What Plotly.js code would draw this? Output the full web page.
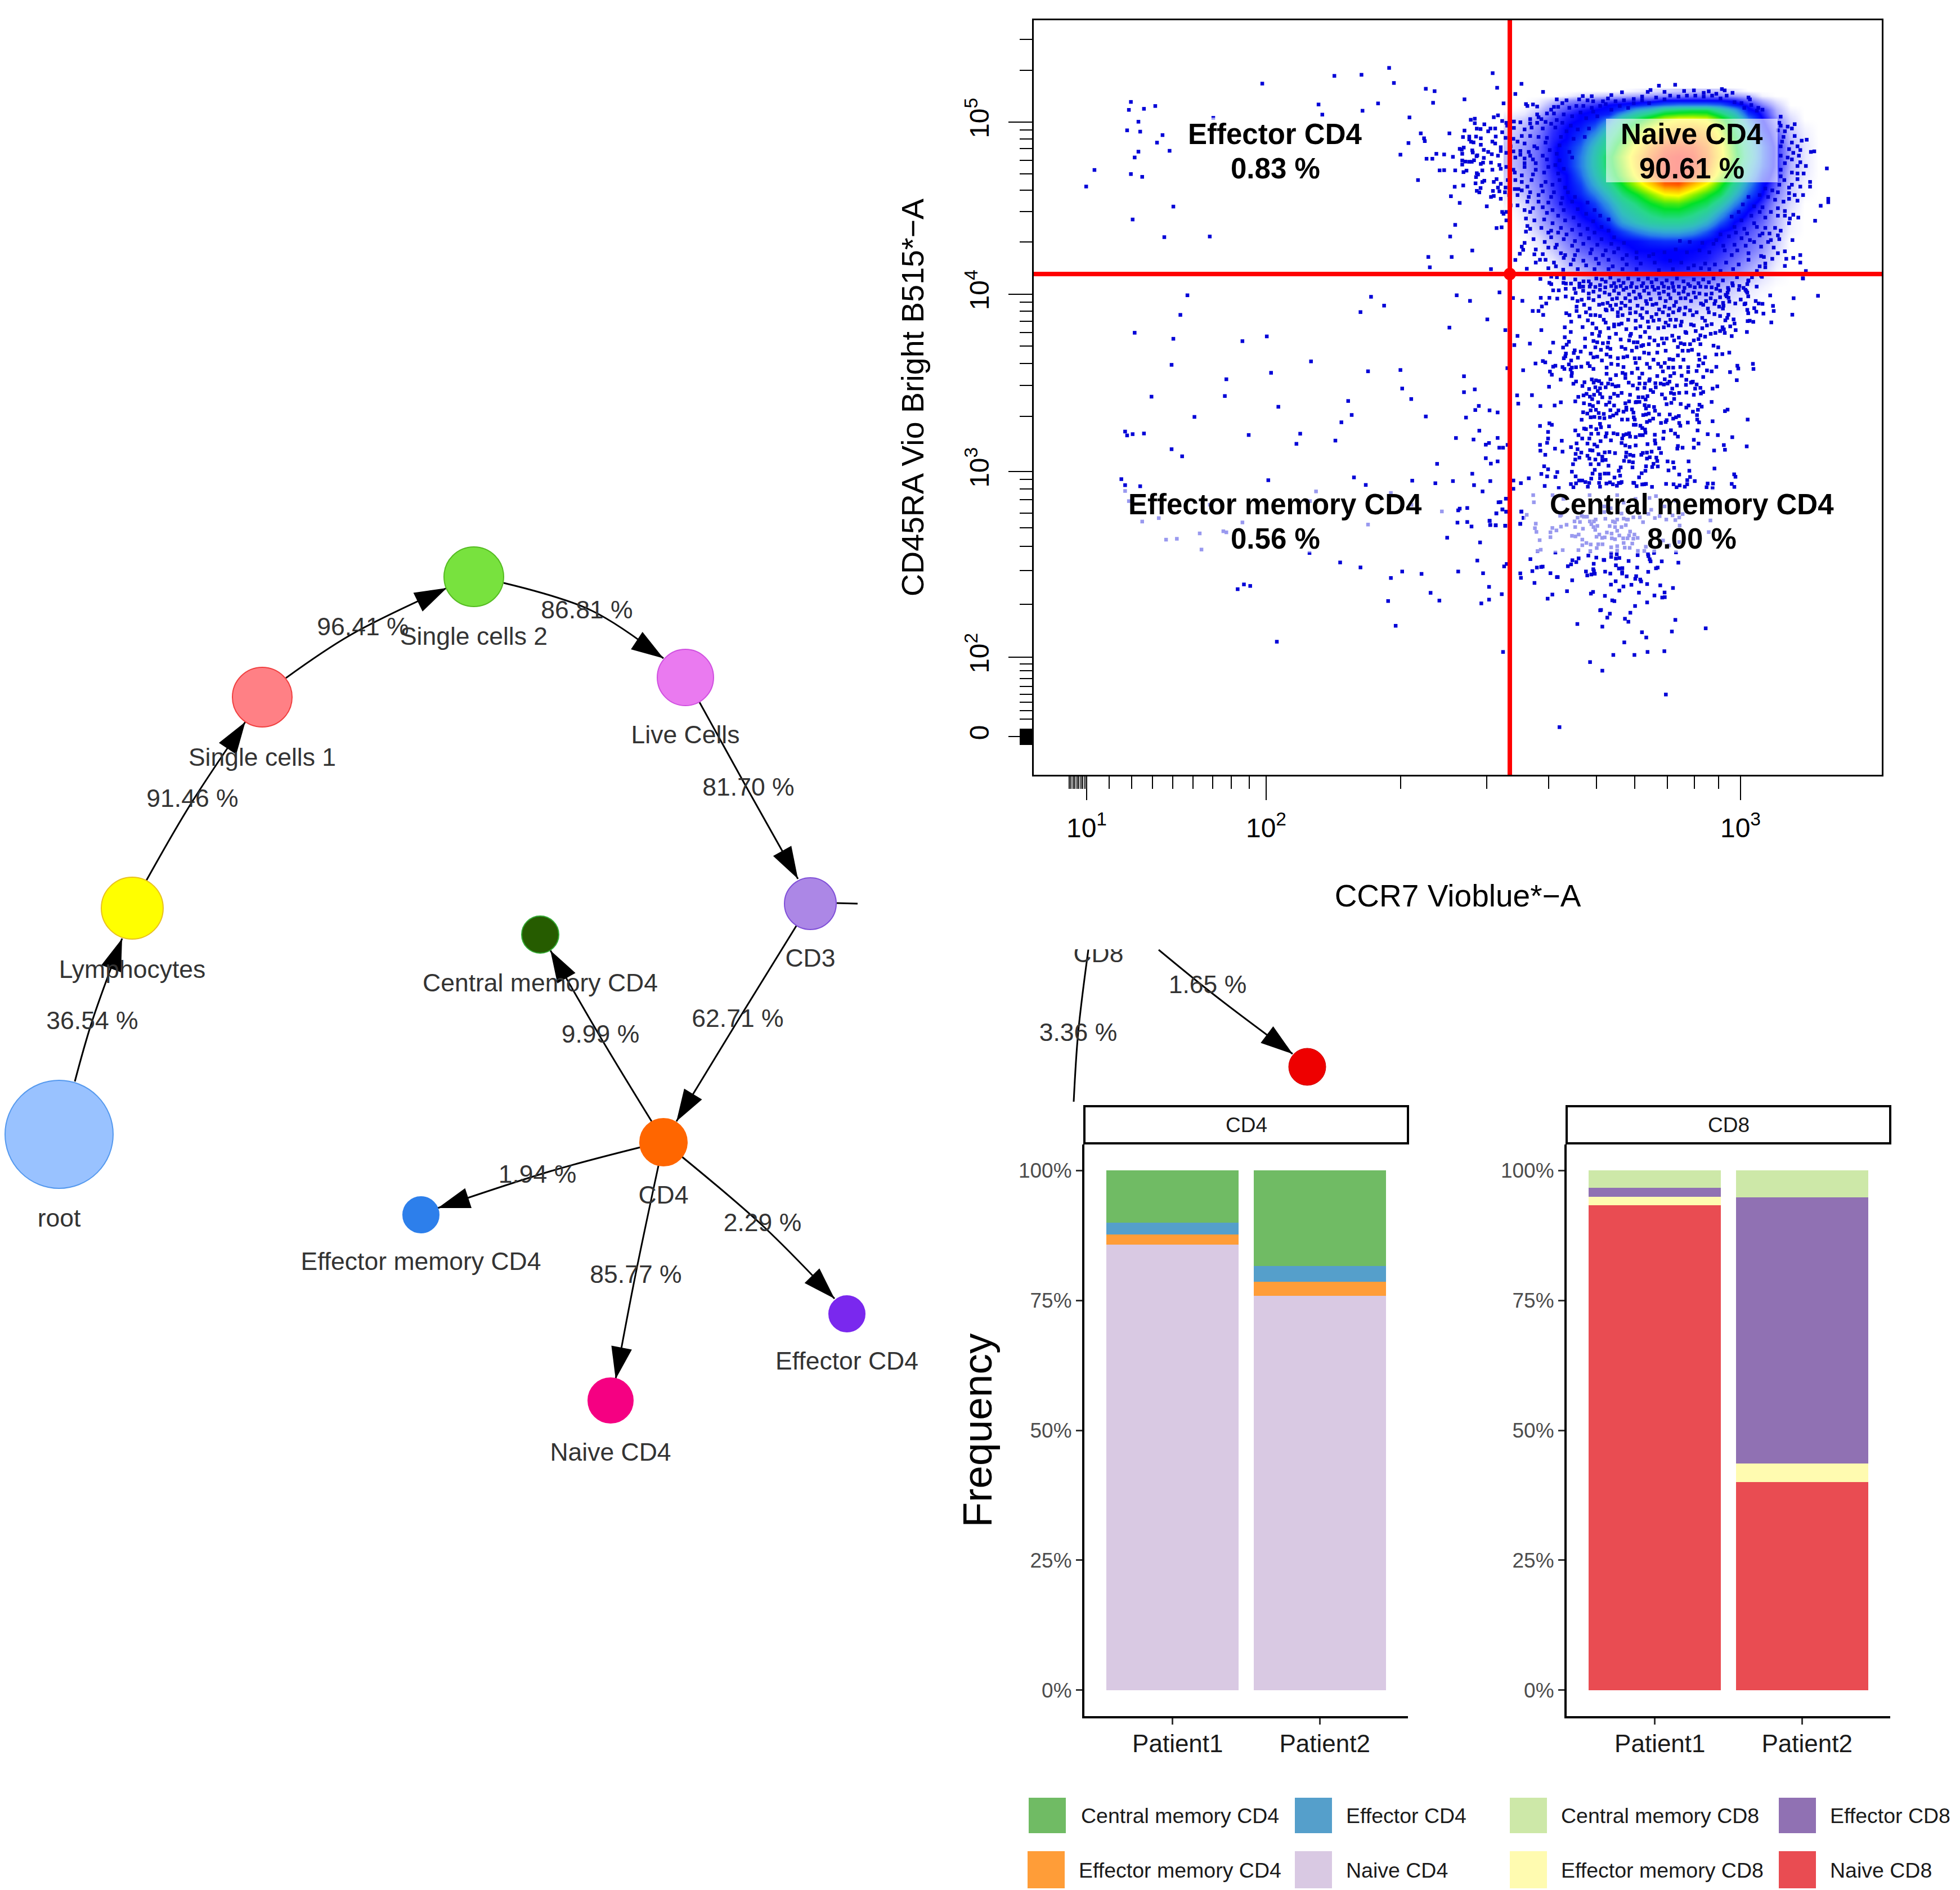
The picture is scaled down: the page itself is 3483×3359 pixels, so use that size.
<!DOCTYPE html>
<html><head><meta charset="utf-8">
<script src="https://cdn.plot.ly/plotly-3.0.1.min.js"></script>
<style>html,body{margin:0;padding:0;background:#fff}</style></head>
<body><div id="chart"></div>
<script>
// ---------- stacked bars ----------
const patients = ['Patient1','Patient2'];
const cd4Naive = [85.77,75.9], cd4EffMem = [1.94,2.7], cd4Eff = [2.29,3.0], cd4Central = [9.99,18.4];
const cd8Naive = [93.3,40.0], cd8EffMem = [1.6,3.6], cd8Eff = [1.8,51.2], cd8Central = [3.3,5.2];
const legendNames = ['Central memory CD4','Effector memory CD4','Effector CD4','Naive CD4','Central memory CD8','Effector memory CD8','Effector CD8','Naive CD8'];
const legendColors = ['#70BB64','#FF9D38','#559FCB','#D9C9E3','#CDE8A8','#FFFBB0','#9071B3','#E94C52'];
const pctTicks = [0,25,50,75,100];

// ---------- gating tree ----------
const nodeNames = ['root','Lymphocytes','Single cells 1','Single cells 2','Live Cells','CD3','CD4','Central memory CD4','Effector memory CD4','Naive CD4','Effector CD4'];
const nodeX = [105,235,466,842,1218,1440,1179,960,748,1085,1505];
const nodeY = [2016,1614,1239,1025,1204,1606,2030,1661,2159,2489,2335];
const nodeD = [192,110,106,106,100,92,84,66,64,80,64];
const nodeFill = ['#99C2FF','#FFFF00','#FF8085','#78E23E','#EA7AF0','#AC87E6','#FF6600','#265C00','#2D7FEB','#F50082','#7A28EE'];
const nodeEdge = ['#5599EE','#E8C020','#F04040','#55BB22','#D050E0','#8050D8','#FF6600','#33AA33','#2D7FEB','#F50082','#7A28EE'];
const labelX = [105,235,466,842,1218,1440,1179,960,748,1085,1505];
const labelY = [2169,1727,1350,1135,1310,1707,2128,1751,2246,2585,2423];
const edgePaths = [
 [[133,1922],[163,1817],[217,1668]],
 [[260,1565],[337,1432],[436,1283]],
 [[508,1205],[622,1129],[794,1045]],
 [[895,1036],[1051,1085],[1179,1170]],
 [[1243,1248],[1327,1400],[1418,1562]],
 [[1416,1644],[1316,1806],[1202,1993]],
 [[1158,1993],[1071,1850],[978,1689]],
 [[1138,2039],[980,2081],[778,2147]],
 [[1212,2056],[1357,2180],[1483,2308]],
 [[1170,2072],[1128,2272],[1094,2451]]
];
const edgeStub = [[1487,1605],[1524,1606]];
const edgeText = ['36.54 %','91.46 %','96.41 %','86.81 %','81.70 %','62.71 %','9.99 %','1.94 %','2.29 %','85.77 %'];
const edgeTextX = [164,342,645,1043,1330,1311,1067,955,1355,1130];
const edgeTextY = [1818,1423,1118,1088,1403,1814,1842,2091,2177,2269];
// part of the tree seen below the dot plot
const cd8Line = [[1934,1688],[1916,1835],[1908,1958]];
const cd8NaiveEdge = [[2059,1688],[2160,1770],[2297,1873]];
const cd8NaiveNode = [2323,1896];

// ---------- dot plot: axis scale is the plot's display channel ----------
const xMajor = [1931,2250,3093], xMajorText = ['10<sup>1</sup>','10<sup>2</sup>','10<sup>3</sup>'];
const xMinor = [1900,1903,1907,1910,1914,1917,1921,1924,1928,1971,2011,2048,2084,2120,2155,2188,2220,2489,2642,2752,2837,2905,2963,3011,3054];
const yMajor = [1309,1168,838,522.5,217], yMajorText = ['0','10<sup>2</sup>','10<sup>3</sup>','10<sup>4</sup>','10<sup>5</sup>'];
const yMinor = [70,125,231,247,264,285,309,338,376,430,537,553,571,591,615,646,685,740,852,869,888,912,938,971,1014,1074,1180,1192,1206,1220,1234,1248,1263,1278,
 1296,1297.5,1299,1300.5,1302,1303.5,1305,1306.5,1308,1309.5,1311,1312.5,1314,1315.5,1317,1318.5,1320,1321.5,1323];
const gateX = 2683, gateY = 487;

const blobCols = [250,300,350,400,450,500,550,600,650,700,750,800,850,900,950,1000,1050,1100,1150,1200,1250,1300,1350,1400];
const blobRows = [125,150,175,200,225,250,275,325,375,425,475,525,575,625,675,725,775,825,875,925,975,1025,1075,1125,1175,1250,1350,1450];
const blobLevels = [
[0,0,0,0,0,0,0,0,0,.05,.1,.15,.2,.2,.2,.2,.1,0,0,0,0,0,0,0],
[0,0,0,0,.05,.15,.2,.25,.3,.35,.4,.45,.5,.55,.55,.5,.4,.3,.05,0,0,0,0,0],
[0,0,.05,.2,.4,.5,.6,.7,.75,.8,.8,1,1,1,1,1,.9,.6,.3,.1,0,0,0,0],
[0,0,.1,.35,.6,.7,.8,1,1.1,1.2,1.5,1.8,2,2,2,1.8,1.2,.9,.5,.2,0,0,0,0],
[0,.05,.2,.5,.7,.9,1,1.1,1.5,2.5,3,4,4.3,4.5,4.5,3.5,2.5,1.1,.8,.3,.05,0,0,0],
[.05,.1,.3,.6,.85,1,1.1,1.3,2.5,3.5,4.3,5.2,5.5,5.6,5.5,4.5,3.2,1.5,.9,.35,.1,0,0,0],
[.1,.2,.4,.7,.9,1,1.2,2,3.5,4.5,5.5,6.5,7,7,6.8,5.5,4,2,1,.45,.15,0,0,0],
[.15,.3,.5,.8,1,1.2,1.8,3,4.5,5.8,6.8,7.6,8,8.2,7.8,6.5,4.5,2.7,1.2,.6,.2,.05,0,0],
[.2,.35,.55,.85,1,1.5,2.5,3.8,5,6.5,7.6,8.6,8.8,8.8,8.4,7,5,3,1.5,.7,.25,.08,0,0],
[.25,.4,.6,.9,1.2,1.8,3,4.2,5.8,7.2,8.5,9.4,9.6,9.5,8.8,7.3,5.3,3.3,1.8,.8,.3,.1,0,0],
[.25,.4,.6,.9,1.2,2,3.2,4.7,6.2,7.7,9,9.8,10,9.8,9,7.4,5.5,3.4,1.8,.8,.3,.1,0,0],
[.25,.4,.6,.9,1.2,2,3.2,4.6,6,7.6,9,9.8,10,9.7,8.8,7,5,3,1.7,.8,.3,.1,0,0],
[.2,.35,.55,.85,1,1.8,3,4.3,5.7,7.2,8.7,9.8,10,9.5,8.4,6.4,4.5,2.7,1.4,.7,.25,.08,0,0],
[.15,.3,.5,.8,1,1.5,2.6,3.7,5,6.3,7.6,9,9.2,8,6.8,5.3,3.7,2.2,1.1,.6,.2,.05,0,0],
[.1,.25,.45,.75,1,1.3,2,3,4.2,5,6,7,7.2,6.2,5.3,4.5,3,1.7,1,.5,.2,.03,0,0],
[.05,.15,.4,.7,.95,1,1.5,2.4,3.5,4.2,5,5.5,5.6,5,4.5,3.5,2.2,1.2,.8,.4,.15,0,0,0],
[0,.1,.35,.6,.85,1,1.2,1.9,3,3.6,4.2,4.6,4.6,4.2,3.6,2.5,1.4,.95,.7,.3,.1,0,0,0],
[0,.05,.3,.5,.7,.9,1,1.4,2.4,3,3.5,3.7,3.7,3.4,2.7,1.7,1,.8,.6,.3,.05,0,0,0],
[0,.03,.2,.4,.6,.8,.95,1,1.5,2,2.4,2.6,2.6,2.3,1.7,1,.9,.7,.5,.25,.05,0,0,0],
[0,0,.1,.3,.5,.7,.85,.95,1,1.1,1.3,1.4,1.4,1.2,1,.95,.8,.6,.45,.2,0,0,0,0],
[0,0,.05,.2,.4,.6,.7,.8,.9,1,1,1,1,1,.95,.85,.7,.55,.4,.15,0,0,0,0],
[0,0,.03,.1,.3,.45,.6,.7,.8,.9,.95,1,1,.95,.9,.75,.6,.45,.3,.1,0,0,0,0],
[0,0,0,.05,.2,.3,.45,.6,.7,.8,.85,.9,.9,.85,.75,.65,.5,.35,.2,.05,0,0,0,0],
[0,0,0,.03,.1,.2,.3,.4,.5,.55,.6,.65,.65,.6,.55,.45,.35,.25,.1,.03,0,0,0,0],
[0,0,0,0,.03,.1,.2,.25,.3,.35,.4,.4,.4,.4,.35,.3,.2,.1,.05,0,0,0,0,0],
[0,0,0,0,0,.02,.05,.1,.15,.2,.2,.25,.25,.25,.2,.15,.1,.05,0,0,0,0,0,0],
[0,0,0,0,0,0,0,.02,.05,.05,.08,.1,.1,.08,.05,.05,.02,0,0,0,0,0,0,0],
[0,0,0,0,0,0,0,0,0,0,0,0,0,0,0,0,0,0,0,0,0,0,0,0]];

// single events, read tile by tile (x,y pairs in each tile's reading grid)
const eventsUpperLeft = [1184,54,966,91,1074,86,679,127,1203,124,1330,151,1365,162,156,212,253,231,148,249,208,244,903,224,1140,219,1078,253,918,271,1359,216,1484,200,484,286,1265,284,186,304,141,344,193,350,282,366,260,401,310,439,186,443,171,470,11,528,156,547,201,560,1310,358,1323,381,1326,394,1261,403,1424,358,1229,457,1372,453,1403,456,1333,476,1356,476,1438,467,1299,575,1385,530,1403,529,1447,530,1445,606,1479,600,1430,650,1465,681,325,698,163,758,289,840,470,837,1447,783,1427,837,1515,902,1340,932,1433,932,1346,980,381,1110,1112,1117,1164,1158,1453,1110,1506,1136,353,1201,1070,1188,171,1284,325,1312,600,1323,697,1301,1424,1260,318,1433,873,1417,714,1470,536,1500,1100,1463,1229,1457,1236,1543,1482,1486,1525,1547,1482,1560,1509,295,1525,290,1525,311,1533,336,1548,338,1563,316,1484,345,1478,375,1503,373,1530,373,1549,381,1503,386,1510,397,1520,400,1549,411,1481,424,1465,430,1473,434,1515,437,1517,447,1475,453,1535,460,1532,464,1561,435,1561,472,1475,484,1487,489,1502,490,1513,490,1522,483,1475,503,1549,500,1558,494,1480,538,1492,531,1533,543,1538,549,1555,530,1530,561,1528,590,1555,584,1563,578,1548,612,1533,625,1543,632,-22,605];
const eventsLowerLeft = [238,13,530,10,743,60,1021,33,1272,24,409,107,1035,98,994,132,1330,105,1490,110,1541,56,1527,75,133,175,141,193,163,187,208,184,625,191,830,185,970,217,815,232,1450,205,1520,212,1543,171,318,257,360,290,1375,325,118,396,133,424,193,429,703,401,1044,388,1091,423,1276,403,1368,415,1438,405,1515,371,1522,424,1556,453,1465,533,1459,541,1495,530,1456,598,1495,595,1512,616,1415,668,1546,690,867,739,989,783,1070,806,1236,825,1313,836,1459,825,1535,774,1558,833,1191,855,581,907,606,885,631,892,1349,924,1180,962,1384,960,1551,973,1210,1077,737,1151,133,451,148,498,201,593,267,577,600,597,430,648,524,638,536,643,296,677,339,673,437,723,893,453,1191,460,869,498,470,515,1273,515,1394,546,1100,607];
const eventsMid = [314,119,249,263,345,320,261,748,304,759,304,895,313,947,333,947,241,1003,304,1020,268,1032,265,1125,241,931,258,922,309,1238,348,1219,319,1237,330,1276,297,1297,350,1288,262,1337,265,1359,294,1361,345,1363,356,523,357,932,431,1287,442,1321,425,1353,
386,149,436,164,534,148,580,148,622,152,667,141,703,151,563,178,540,194,491,218,522,218,547,239,670,230,687,240,740,247,696,275,662,305,757,304,694,330,537,320,410,351,662,358,393,400,476,392,600,387,684,382,672,398,653,413,770,409,583,438,715,428,710,442,747,435,668,445,665,460,657,470,732,467,696,482,506,498,545,485,558,492,684,503,612,510,600,515,650,517,660,527,700,520,722,518,750,515,693,530,440,534,583,541,593,558,700,548,698,565,640,584,578,622,708,606,722,594,487,667,408,668,414,712,532,725,608,722,641,705,718,700,734,676,
756,618,767,598,792,634,806,583,816,600,828,588,845,592,858,605,825,625,850,630,838,645,818,665,778,660,762,668,796,675,808,688,850,660,862,678,905,680,905,582,893,605,915,610,933,620,948,618,880,625,925,660,945,670,965,655,1003,600,1025,615,1010,665,1060,605,1050,632,1087,628,1090,605,1112,590,1120,640,1133,650,1145,603,1147,625,1055,678,1045,703,1078,678,1103,672,1093,690,1173,605,1190,610,1210,605,1220,595,1235,632,1180,663,1197,684,1228,655,1245,660,1245,687,1272,655,1310,653,1350,665,1385,628,1357,632,1400,650,1388,658,1260,615,1308,612,1335,600,1345,595,1365,610,1450,632,1475,620,
764,710,795,718,812,725,840,705,882,718,900,705,925,722,985,710,1005,700,990,733,760,758,782,765,800,748,828,745,843,762,870,767,905,747,948,748,975,755,990,745,1020,743,1028,760,1040,705,1060,703,1088,720,1095,738,1138,730,1143,750,1165,770,1110,725,1080,773,1095,770,1110,765,800,785,820,783,848,787,873,790,903,783,920,775,938,765,967,797,997,797,1030,785,1035,797,1133,792,1100,810,1115,803,1205,800,1222,770,1240,792,1255,785,1270,778,1205,715,1230,708,1280,714,1310,733,1322,722,1345,755,1372,745,1380,718,1392,728,1367,773,1368,797,1378,812,1445,703,1450,806,752,798,580,817,593,825,530,831,573,863,718,855,765,845,775,848,801,835,830,848,850,820,855,838,898,833,1030,825,1040,825,1065,830,1075,842,1090,850,1175,815,1200,810,1272,815,1278,830,1318,813,1370,855,1190,862,1228,854,1250,872,1265,888,1424,875,1478,880,
573,898,568,921,646,910,530,932,610,952,695,944,725,924,783,925,820,930,835,940,755,898,793,898,735,880,803,873,840,872,885,870,880,888,908,908,922,870,943,875,968,898,965,922,975,880,990,875,1010,888,1005,870,1040,890,1062,880,1078,880,1092,867,1142,878,1142,908,1145,925,1187,898,1103,928,1040,935,1008,943,985,935,853,912,
532,963,558,985,650,968,730,955,720,980,750,973,797,960,810,962,842,982,875,972,900,970,930,976,990,973,988,995,1010,985,1028,990,1078,975,1100,973,1125,968,1165,950,1175,975,1265,938,1262,952,1290,947,1350,947,1458,962,1350,905,1375,925,
718,1010,740,1000,783,990,793,1005,825,1010,862,995,880,1012,862,1015,978,1017,1005,1020,1025,1025,1070,985,1100,1005,1115,998,1150,1000,1155,1018,1210,1020,1240,1025,1322,1020,
552,1046,573,1062,706,1035,800,1035,843,1035,895,1043,960,1052,1023,1052,1095,1046,1128,1050,1158,1047,1135,1033,
537,1087,568,1100,622,1077,612,1103,700,1075,720,1100,822,1065,810,1085,850,1090,875,1085,895,1085,950,1070,957,1096,1072,1083,1092,1070,1215,1068,1245,1054,1272,1090,1326,1070,1460,1058,
470,1110,803,1112,850,1110,927,1106,1058,1105,1330,1103,1315,1120,
388,1122,428,1136,388,1166,555,1151,708,1158,722,1137,738,1122,755,1122,772,1130,785,1155,845,1135,850,1155,903,1132,950,1135,965,1130,940,1150,1032,1135,1045,1152,1075,1143,1095,1140,1127,1156,1242,1142,1258,1158,1302,1155,1355,1125,1418,1158,1450,1163,630,1162,
532,47,590,35,620,38,657,43,580,68,590,75,655,68,668,72,695,72,718,50,740,72,762,60,790,60,800,75,830,45,860,50,880,62,905,40,925,70,950,55,975,68,1000,45,1020,70,1055,50,1080,70,1105,45,1125,65,1150,50,1180,70,1205,55,1235,70,1260,45,1295,60,1320,75,1350,50,1375,70,1400,50,1430,65,1455,45,1480,80,740,90,760,88,795,88,825,90,850,80,878,92,910,85,935,90,960,85,990,95,1015,88,1045,92,1072,85,1100,92,1130,88,1160,95,1190,88,1215,95,1240,90,1270,88,1300,95,1330,85,1355,92,1385,88,1415,90,1445,92,600,108,630,108,667,100,713,100,
720,122,760,110,790,125,815,115,850,105,875,120,900,130,925,110,950,125,975,105,1005,130,1030,115,1060,130,1085,110,1110,125,1140,105,1165,125,1190,115,1215,130,1245,110,1270,125,1295,115,1320,130,1350,120,1380,125,1415,130,1445,125,1470,100,1490,110,
752,158,730,165,790,150,815,160,845,140,865,180,890,175,915,155,940,150,965,175,985,150,1010,165,1040,150,1065,145,1095,165,1120,155,1150,180,1170,150,1200,165,1225,150,1255,170,1280,150,1305,150,1335,165,1360,145,1388,178,1415,165,1440,150,1465,165,1490,145,
725,195,765,185,795,205,845,185,880,210,905,190,935,185,960,205,985,190,1010,205,1050,190,1075,205,1100,180,1130,185,1165,210,1195,195,1220,205,1245,190,1275,205,1305,200,1330,215,1400,185,1425,205,1460,180,1485,195,
725,218,775,225,800,240,825,240,850,245,885,215,915,210,945,225,970,240,1010,230,1040,225,1065,240,1100,225,1125,250,1150,235,1185,225,1215,240,1240,225,1270,215,1300,235,1345,240,1365,225,1395,255,1430,225,1460,235,1490,245,
785,268,810,285,830,310,870,265,880,280,925,290,945,245,965,285,1000,265,1040,270,1075,255,1105,275,1135,270,1165,265,1200,280,1225,265,1255,265,1285,275,1335,290,1350,295,1410,270,1445,288,1420,295,
850,330,895,310,925,300,950,290,990,315,1015,340,1040,310,1065,300,1110,305,1160,310,1190,305,1215,295,1250,300,1280,295,1395,310,1360,325,1305,330,
808,340,845,350,900,360,935,340,960,370,1010,350,1065,355,1090,330,1115,360,1140,375,1180,365,1205,365,1235,350,1270,360,1280,390,1310,335,1385,348,1410,355,1440,340,1465,335,1490,325,
770,365,815,378,835,385,865,390,893,387,1005,375,1030,385,1050,385,1080,400,1110,395,1160,400,1190,390,1245,375,1300,395,1330,395,1350,375,1375,368,1385,395,
825,412,855,425,890,412,905,420,965,410,985,420,1020,430,1045,412,1070,405,1085,440,1110,445,1155,440,1200,430,1265,410,1290,430,1320,430,1340,425,1375,450,1410,465,1455,403,1480,412,
800,445,815,465,835,462,860,482,885,450,905,462,945,470,975,465,995,460,1035,470,1060,470,1135,478,1220,475,1240,478,1265,455,1295,478,1380,478,1470,450,
785,497,795,512,815,527,885,520,910,500,945,505,975,517,1040,495,1050,525,1100,500,1115,520,1160,500,1175,515,1195,495,1215,520,1240,520,1278,517,1320,518,1375,510,1400,497,1470,516,
885,553,935,560,970,548,985,555,1020,548,1075,552,1185,540,1245,550,1225,565,1285,563,1320,543,1365,538,1420,535,1445,540,1400,570,985,575,1060,575,1115,582,1155,565,1195,582,1310,585,1340,598];
const eventsRight = [491,44,273,36,220,38,140,38,200,58,65,55,115,70,118,82,195,75,245,88,153,85,150,105,92,95,95,105,175,95,185,105,190,112,90,120,195,120,80,132,85,140,95,148,200,140,317,135,442,150,572,137,160,157,99,168,131,178,180,182,185,178,240,165,256,178,276,180,332,191,66,175,68,190,65,205,195,212,232,203,243,222,200,230,281,232,336,218,435,238,94,238,88,255,78,268,122,263,127,285,197,272,208,270,227,276,323,279,104,300,63,305,70,316,133,320,75,335,193,330,112,352,99,440,62,448,142,510,147,525,225,500,228,527,103,544,139,587,90,744,76,752,197,797,115,891,70,933,76,958,192,940,125,1089,132,1102,112,1140,126,1156];
const eventsLower = [284,528,225,489,225,557,295,380,307,367,290,836,417,341,447,386,467,383,474,381,426,405,370,417,373,441,510,416,436,468,540,437,544,437,611,454,612,347,606,369,591,379,630,357,641,337,686,322,723,333,757,345,760,346,792,329,792,308,533,306,818,315,814,338,830,335,711,366,814,374,828,391,844,389,675,407,681,428,700,423,709,395,712,405,716,419,764,408,788,418,843,410,843,418,864,433,913,386,873,351,915,320,963,315,965,325,971,342,975,353,991,308,1027,353,1104,360,1093,305,1000,390,1008,386,964,409,908,432,904,446,927,450,931,460,813,459,791,477,849,487,886,478,959,474,1020,481,1079,495,830,509,921,520,763,537,698,525,708,516,587,512,519,530,497,552,1040,519,993,535,1029,546,1041,544,797,561,807,565,959,572,903,591,741,614,745,612,786,632,774,653,881,627,856,659,872,675,635,687,751,701,1090,665,1231,710,935,731,1074,727,955,759,853,785,802,852,900,852,961,836,1039,832,694,890,751,936,1046,1063,552,1237,370,153,385,121,375,88,305,88,287,76,259,97,227,137,230,159,256,161,300,163,
433,38,400,105,555,110,560,105,655,110,665,115,680,115,720,130,765,126,850,125,870,130,820,130,895,118,925,118,965,100,995,122,1017,112,1048,130,1077,108,1090,133,1108,119,1124,101,1253,135,940,144,1110,162,622,140,636,120,647,143,442,152,438,176,519,175,585,158,559,168,538,188,625,170,661,179,693,140,700,155,712,140,728,164,710,170,718,185,800,140,810,145,785,165,810,170,840,170,860,160,865,130,820,190,772,199,794,205,830,215,880,194,875,215,900,210,445,196,510,198,510,224,610,217,626,220,641,210,737,210,724,222,750,228,762,225,795,230,810,235,848,230,868,230,895,232,915,228,460,240,658,237,677,255,697,263,732,262,752,262,658,267,850,255,890,258,725,282,792,278,820,272,855,280,878,281,820,295,640,293,567,293,450,298,465,291,695,298,916,297,946,297,1033,242,1108,250,1060,268,1245,197,953,275,992,300,570,20,692,0,520,0,760,60,790,70,820,0,850,40,905,20,970,15,1040,60,1105,70,760,90,840,98,1000,5,1090,30,978,78,430,0,
605,-59,690,-65,770,-62,835,-65,895,-66,945,-58,1047,-60,1145,-58,1240,-62,1265,-62,800,-58,1110,-52];
const eventsUpperRight = [186,30,289,87,202,108,267,141,366,130,225,191,780,97,838,92,750,120,1005,115,1015,122,1043,135,648,132,540,153,508,152,610,147,598,165,690,168,720,155,740,130,800,130,870,125,905,122,940,135,958,127,985,140,1100,160,
415,170,435,190,450,175,495,170,525,175,545,180,580,180,625,180,655,175,690,190,720,175,745,190,770,160,800,170,820,150,850,155,880,150,910,150,940,155,970,150,1000,165,1022,150,1050,185,1075,190,1105,170,1110,200,
405,210,420,210,345,208,305,195,330,197,310,205,460,215,485,205,510,205,540,215,570,205,590,195,610,225,640,205,670,215,1135,215,1150,225,1085,215,1130,230,
380,245,395,225,405,245,345,250,350,265,320,275,360,275,375,290,415,280,440,250,470,260,500,240,520,270,545,235,560,260,
190,265,205,255,220,285,235,295,262,288,285,292,320,298,345,295,395,300,435,295,465,310,
170,340,178,325,195,325,220,345,238,310,262,322,300,330,325,320,365,325,410,320,450,340,490,330,530,325,
197,368,232,375,260,380,290,365,320,365,350,370,380,375,430,370,475,380,515,370,
185,395,195,405,250,420,275,395,300,405,335,420,375,400,425,415,
170,450,215,425,215,445,260,447,285,445,315,450,345,430,390,440,
183,462,205,470,235,455,285,465,320,470,365,470,415,460,460,450,
267,480,300,485,330,490,380,490,425,495,470,480,
180,507,210,520,235,530,300,510,340,510,410,520,
185,545,215,540,260,545,300,530,340,545,385,530,440,540,
265,560,290,575,330,570,370,560,420,565,
200,595,190,610,215,620,240,600,267,600,290,610,325,600,375,610,425,600,
205,640,232,640,265,648,278,648,310,635,360,630,400,625,445,640,
187,658,210,660,230,665,290,655,320,665,365,660,405,665,455,665,
180,690,190,685,215,700,245,680,275,680,315,690,350,680,395,690,435,695,480,690,
165,740,250,735,275,735,310,715,350,715,385,720,430,725,470,715,525,720,
220,770,235,770,300,760,330,750,365,745,400,760,440,760,490,755,550,760,
225,780,235,815,320,770,380,775,420,790,475,800,520,780,570,790,
305,805,335,815,370,810,400,830,445,815,495,840,545,820,600,810,
200,856,218,852,310,845,320,860,360,855,395,870,430,855,470,865,525,860,575,850,
305,875,385,880,420,880,450,890,500,890,550,880,600,870,
332,915,395,905,440,915,480,925,530,910,575,915,620,905,
372,930,300,935,415,945,470,950,510,940,560,945,610,940,655,935,
290,955,385,960,410,960,430,990,490,975,540,970,590,975,635,965,
295,972,340,970,365,995,335,996,283,993,445,1000,480,1000,535,990,580,1000,620,985,665,1000,700,985,
355,1025,375,1025,405,1040,440,1015,475,1025,510,1030,555,1020,600,1025,650,1020,700,1015,745,1005,
267,1026,340,1040,412,1060,465,1050,520,1055,565,1045,615,1060,665,1050,715,1045,765,1040,
180,1075,308,1073,385,1070,438,1078,490,1075,550,1075,600,1075,650,1075,700,1075,
1215,262,1265,302,1210,295,1215,310,1240,315,1255,325,1205,335,1230,340,1265,365,1225,370,1290,390,1308,385,1220,395,1255,400,
1215,420,1275,420,1245,435,1285,440,1335,447,1323,450,1260,455,1215,470,1240,480,1280,470,1255,490,1285,505,1230,510,1275,525,1305,525,1380,538,
1215,545,1255,560,1275,565,1297,565,1215,580,1275,595,1228,600,1320,610,1255,625,1320,635,1285,635,1245,640,1210,625,
1185,655,1160,645,1205,665,1245,670,1265,680,1295,680,1245,700,1275,710,1385,700,1385,718,1358,737,1140,680,1100,690,1170,690,
1195,705,1225,715,1205,750,1080,730,1120,740,1150,745,1180,770,1230,765,1260,785,1205,790,1278,800,1248,805,1338,817,1065,770,1110,790,1140,770,1160,800,1230,790,
1040,795,1075,815,1120,830,1160,855,1195,855,1245,830,1050,850,1085,860,1130,850,1150,885,1175,885,1205,895,1215,870,
1055,880,1095,885,1140,895,1180,920,1210,915,1257,920,1075,910,1105,920,1030,900,1000,890,985,920,
1170,930,1120,930,1145,955,1190,960,1230,980,1090,950,1050,945,1010,950,975,940,935,935,890,930,855,925,
1205,990,1285,1000,1260,1015,1235,1020,1185,1020,1145,1005,1155,1010,1100,990,1060,975,1040,1000,1015,975,960,985,925,975,880,985,840,970,800,985,760,995,
1285,1040,1230,1058,1160,1045,1140,1060,1160,1065,1130,1085,1100,1025,1065,1050,1020,1040,980,1050,945,1045,905,1055,860,1040,820,1030,
1305,1085,1295,1125,1145,1110,1100,1135,1045,1075,1000,1085,960,1075,930,1070,885,1070,830,1075,780,1080];

// ---------- page geometry ----------
const W = 3483, H = 3359, FONT = '"Liberation Sans", Arial, sans-serif';
const px = v => v / W, py = v => 1 - v / H;
const dom = (a, b) => [a / W, b / W], domY = (top, bottom) => [1 - bottom / H, 1 - top / H];

function tile(list, ox, oy, sx, sy) {
  const xs = [], ys = [];
  for (let i = 0; i < list.length; i += 2) { xs.push(ox + list[i] * sx); ys.push(oy + list[i + 1] * sy); }
  return [xs, ys];
}
const tiles = [
  tile(eventsUpperLeft, 1940, 100, .4464, .3827),
  tile(eventsLowerLeft, 1940, 700, .4464, .3827),
  tile(eventsMid, 2560, 480, 1/3, 1/3),
  tile(eventsRight, 3040, 480, 1/3, 1/3),
  tile(eventsLower, 2560, 880, .3827, 1/3),
  tile(eventsUpperRight, 2560, 120, .4974, 1/3)
];
const traces = [];
traces.push({type:'heatmap', xaxis:'x', yaxis:'y', x:blobCols.map(v=>2560+v*.4974), y:blobRows.map(v=>120+v/3), z:blobLevels,
  zmin:0, zmax:10, zsmooth:'best', showscale:false, hoverinfo:'skip',
  colorscale:[[0,'rgba(0,0,255,0)'],[.1,'rgba(0,0,255,1)'],[.15,'rgb(15,60,250)'],[.2,'rgb(40,125,235)'],[.25,'rgb(50,165,215)'],[.3,'rgb(50,190,190)'],[.4,'rgb(40,215,140)'],[.5,'rgb(0,225,40)'],[.6,'rgb(130,240,0)'],[.7,'rgb(255,255,0)'],[.8,'rgb(255,190,0)'],[.9,'rgb(255,110,0)'],[1,'rgb(255,20,0)']]});
traces.push({type:'scatter', mode:'markers', xaxis:'x', yaxis:'y', hoverinfo:'skip',
  x:tiles.flatMap(t=>t[0]), y:tiles.flatMap(t=>t[1]),
  marker:{symbol:'square', size:6.5, color:'rgb(0,0,215)', opacity:1, line:{width:0}}});
const redLine = {color:'#FF0000', width:8};
traces.push({type:'scatter', mode:'lines', xaxis:'x', yaxis:'y', x:[gateX,gateX], y:[36,1377], line:redLine, hoverinfo:'skip'});
traces.push({type:'scatter', mode:'lines', xaxis:'x', yaxis:'y', x:[1837,3344], y:[gateY,gateY], line:redLine, hoverinfo:'skip'});
traces.push({type:'scatter', mode:'markers', xaxis:'x', yaxis:'y', x:[gateX], y:[gateY], marker:{size:22,color:'#FF0000',opacity:1}, hoverinfo:'skip'});

// bars: first listed is the bottom of each stack
function bars(series, colors, xa, ya) {
  series.forEach((vals, i) => traces.push({type:'bar', xaxis:xa, yaxis:ya, x:patients, y:vals, marker:{color:colors[i], line:{width:0}}, hoverinfo:'skip'}));
}
const col = n => legendColors[legendNames.indexOf(n)];
bars([cd4Naive,cd4EffMem,cd4Eff,cd4Central], ['Naive CD4','Effector memory CD4','Effector CD4','Central memory CD4'].map(col), 'x2','y2');
bars([cd8Naive,cd8EffMem,cd8Eff,cd8Central], ['Naive CD8','Effector memory CD8','Effector CD8','Central memory CD8'].map(col), 'x3','y3');

// tree
function edge(path, arrow, xa, ya) {
  const t = {type:'scatter', mode: arrow ? 'lines+markers' : 'lines', xaxis:xa, yaxis:ya, hoverinfo:'skip',
    x:path.map(p=>p[0]), y:path.map(p=>p[1]), line:{color:'#000', width:3, shape:'spline'}};
  if (arrow) t.marker = {symbol:'arrow', angleref:'previous', size:path.map((p,i)=> i===path.length-1 ? 60 : 0), color:'#000', opacity:1, line:{width:0}};
  traces.push(t);
}
edgePaths.forEach(p => edge(p, true, 'x4','y4'));
edge(edgeStub, false, 'x4','y4');
traces.push({type:'scatter', mode:'markers', xaxis:'x4', yaxis:'y4', x:nodeX, y:nodeY, hoverinfo:'skip',
  marker:{size:nodeD, color:nodeFill, opacity:1, line:{color:nodeEdge, width:2}}});
const treeFont = {family:FONT, size:44.5, color:'#333333'};
traces.push({type:'scatter', mode:'text', xaxis:'x4', yaxis:'y4', x:labelX, y:labelY, text:nodeNames, textposition:'middle center', textfont:treeFont, hoverinfo:'skip', cliponaxis:false});
traces.push({type:'scatter', mode:'text', xaxis:'x4', yaxis:'y4', x:edgeTextX, y:edgeTextY, text:edgeText, textposition:'middle center', textfont:treeFont, hoverinfo:'skip', cliponaxis:false});
edge(cd8Line, false, 'x5','y5');
edge(cd8NaiveEdge, true, 'x5','y5');
traces.push({type:'scatter', mode:'markers', xaxis:'x5', yaxis:'y5', x:[cd8NaiveNode[0]], y:[cd8NaiveNode[1]], hoverinfo:'skip', marker:{size:66,color:'#EE0000',opacity:1,line:{color:'#CC0000',width:1}}});
traces.push({type:'scatter', mode:'text', xaxis:'x5', yaxis:'y5', x:[1952,1916,2146], y:[1699,1839,1754], text:['CD8','3.36 %','1.65 %'], textposition:'middle center', textfont:treeFont, hoverinfo:'skip', cliponaxis:true});

// layout
const annotations = [], shapes = [];
function flowText(t, x, y) { annotations.push({text:t, xref:'x', yref:'y', x, y, showarrow:false, xanchor:'center', yanchor:'middle', font:{family:FONT, size:51, color:'#000'}}); }
[['Effector CD4','0.83 %',2266,238,299,2087,2446,209,325],
 ['Naive CD4','90.61 %',3006,238,299,2854,3159,211,324],
 ['Effector memory CD4','0.56 %',2266,896,957,1968,2566,869,982],
 ['Central memory CD4','8.00 %',3006,896,957,2708,3304,869,982]].forEach(r => {
  shapes.push({type:'rect', xref:'x', yref:'y', x0:r[5], x1:r[6], y0:r[7], y1:r[8], fillcolor:'rgba(255,255,255,0.6)', line:{width:0}, layer:'above'});
  flowText('<b>'+r[0]+'</b>', r[2], r[3]); flowText('<b>'+r[1]+'</b>', r[2], r[4]);
});
[[1927,2502,'CD4'],[2784,3359,'CD8']].forEach(s => {
  shapes.push({type:'rect', xref:'paper', yref:'paper', x0:px(s[0]), x1:px(s[1]), y0:py(1966), y1:py(2032), fillcolor:'#fff', line:{color:'#000', width:4}});
  annotations.push({text:s[2], xref:'paper', yref:'paper', x:px((s[0]+s[1])/2), y:py(1999), showarrow:false, xanchor:'center', yanchor:'middle', font:{family:FONT, size:37, color:'#1A1A1A'}});
});
const legendSwatchX = [1828,1826,2301,2301,2683,2683,3161,3161];
const legendTextX = [1919,1915,2390,2390,2772,2772,3250,3250];
legendNames.forEach((n,i) => {
  const row = i % 2, top = row ? 3290 : 3195, bottom = row ? 3356 : 3258, mid = row ? 3324 : 3227;
  shapes.push({type:'rect', xref:'paper', yref:'paper', x0:px(legendSwatchX[i]), x1:px(legendSwatchX[i]+66), y0:py(top), y1:py(bottom), fillcolor:legendColors[i], line:{width:0}});
  annotations.push({text:n, xref:'paper', yref:'paper', x:px(legendTextX[i]), y:py(mid), showarrow:false, xanchor:'left', yanchor:'middle', font:{family:FONT, size:37.5, color:'#1A1A1A'}});
});
const hidden = {visible:false, fixedrange:true};
const barX = (domainPx) => ({domain:dom(...domainPx), type:'category', categoryorder:'array', categoryarray:patients, range:[-.6,1.6], showline:true, linecolor:'#000', linewidth:4, ticks:'outside', ticklen:11, tickwidth:3, tickcolor:'#333', tickfont:{family:FONT,size:44,color:'#1A1A1A'}, ticklabelshift:9, ticklabelstandoff:-4, showgrid:false, zeroline:false});
const barY = (extra) => Object.assign({domain:domY(2034,3050), range:[-5,105], tickmode:'array', tickvals:pctTicks, ticktext:pctTicks.map(v=>v+'%'), showline:true, linecolor:'#000', linewidth:4, ticks:'outside', ticklen:11, tickwidth:3, tickcolor:'#333', tickfont:{family:FONT,size:37,color:'#4D4D4D'}, showgrid:false, zeroline:false}, extra);
const layout = {
  width:W, height:H, autosize:false, margin:{l:0,r:0,t:0,b:0,pad:0}, paper_bgcolor:'#fff', plot_bgcolor:'rgba(0,0,0,0)', showlegend:false,
  barmode:'stack', bargap:.1, font:{family:FONT}, annotations, shapes,
  xaxis:{domain:dom(1837,3344), range:[1837,3344], anchor:'y', showgrid:false, zeroline:false, showline:true, mirror:true, linecolor:'#000', linewidth:3,
    tickmode:'array', tickvals:xMajor, ticktext:xMajorText, ticks:'outside', ticklen:42, tickwidth:2, tickcolor:'#000', tickfont:{family:FONT,size:48,color:'#000'}, ticklabelstandoff:8,
    minor:{tickmode:'array', tickvals:xMinor, ticks:'outside', ticklen:22, tickwidth:2, tickcolor:'#000', showgrid:false},
    title:{text:'CCR7 Vioblue*\u2212A', font:{family:FONT,size:55,color:'#000'}, standoff:76}},
  yaxis:{domain:domY(36,1377), range:[1377,36], anchor:'x', showgrid:false, zeroline:false, showline:true, mirror:true, linecolor:'#000', linewidth:3,
    tickmode:'array', tickvals:yMajor, ticktext:yMajorText, tickangle:-90, ticks:'outside', ticklen:42, tickwidth:2, tickcolor:'#000', tickfont:{family:FONT,size:48,color:'#000'}, ticklabelstandoff:16,
    minor:{tickmode:'array', tickvals:yMinor, ticks:'outside', ticklen:22, tickwidth:2, tickcolor:'#000', showgrid:false},
    title:{text:'CD45RA Vio Bright B515*\u2212A', font:{family:FONT,size:55.5,color:'#000'}, standoff:48}},
  xaxis2:Object.assign(barX([1927,2502]),{anchor:'y2'}),
  yaxis2:barY({anchor:'x2', title:{text:'Frequency', font:{family:FONT,size:73,color:'#000'}, standoff:24}}),
  xaxis3:Object.assign(barX([2784,3359]),{anchor:'y3'}),
  yaxis3:barY({anchor:'x3'}),
  xaxis4:Object.assign({domain:dom(0,1700), range:[0,1700], anchor:'y4'},hidden),
  yaxis4:Object.assign({domain:domY(960,2660), range:[2660,960], anchor:'x4'},hidden),
  xaxis5:Object.assign({domain:dom(1840,2400), range:[1840,2400], anchor:'y5'},hidden),
  yaxis5:Object.assign({domain:domY(1687,1958), range:[1958,1687], anchor:'x5'},hidden)
};
Plotly.newPlot('chart', traces, layout, {displayModeBar:false, staticPlot:true});
</script></body></html>
